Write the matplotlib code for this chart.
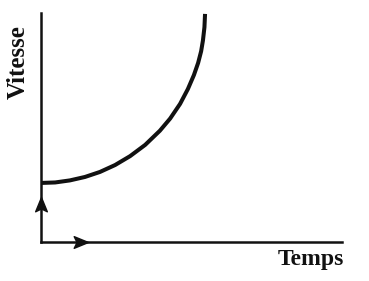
import matplotlib
matplotlib.use("Agg")
import matplotlib.pyplot as plt
from matplotlib.path import Path

# Curve (time, speed) in arbitrary units (axes span 0..10)
temps = [0.03, 0.47, 0.96, 1.46, 1.96, 2.46, 2.96, 3.46, 3.95, 4.29, 4.62,
         4.88, 5.08, 5.22, 5.32, 5.38, 5.43, 5.45]
vitesse = [2.58, 2.60, 2.69, 2.84, 3.06, 3.36, 3.75, 4.24, 4.86, 5.39, 6.03,
           6.68, 7.29, 7.82, 8.33, 8.80, 9.38, 9.96]

# arrow positions on axes
arrow_y_pos = 1.40   # on vertical axis
arrow_x_pos = 1.13   # on horizontal axis

x_label = "Temps"
y_label = "Vitesse"

plt.rcParams['font.family'] = ['Liberation Serif', 'DejaVu Serif']

fig = plt.figure(figsize=(3.69, 2.81), dpi=100)
ax = fig.add_axes([41/369, 39/281, 301/369, 229/281])
ax.set_xlim(0, 10)
ax.set_ylim(0, 10)

ink = '#111111'
for s in ['top', 'right']:
    ax.spines[s].set_visible(False)
for s in ['left', 'bottom']:
    ax.spines[s].set_linewidth(1.8)
    ax.spines[s].set_color(ink)
ax.set_xticks([])
ax.set_yticks([])

ax.plot(temps, vitesse, color=ink, lw=2.9, solid_capstyle='butt', clip_on=False)

# stealth-like arrow heads
up = Path([(0, 1.0), (-0.45, -0.1), (0, 0.12), (0.45, -0.1), (0, 1.0)],
          [Path.MOVETO, Path.LINETO, Path.LINETO, Path.LINETO, Path.CLOSEPOLY])
right = Path([(1.0, 0), (-0.1, 0.45), (0.12, 0), (-0.1, -0.45), (1.0, 0)],
             [Path.MOVETO, Path.LINETO, Path.LINETO, Path.LINETO, Path.CLOSEPOLY])
ax.plot([0], [arrow_y_pos], marker=up, markersize=18.7, color=ink, clip_on=False)
ax.plot([arrow_x_pos], [0], marker=right, markersize=18.7, color=ink, clip_on=False)

fig.text(18/369, 1 - 62/281, y_label, rotation=90, ha='center', va='center',
         fontsize=18, fontweight='bold', color=ink)
fig.text(311/369, 1 - 260/281, x_label, ha='center', va='center',
         fontsize=17, fontweight='bold', color=ink)

fig.savefig("out.png", dpi=100)
